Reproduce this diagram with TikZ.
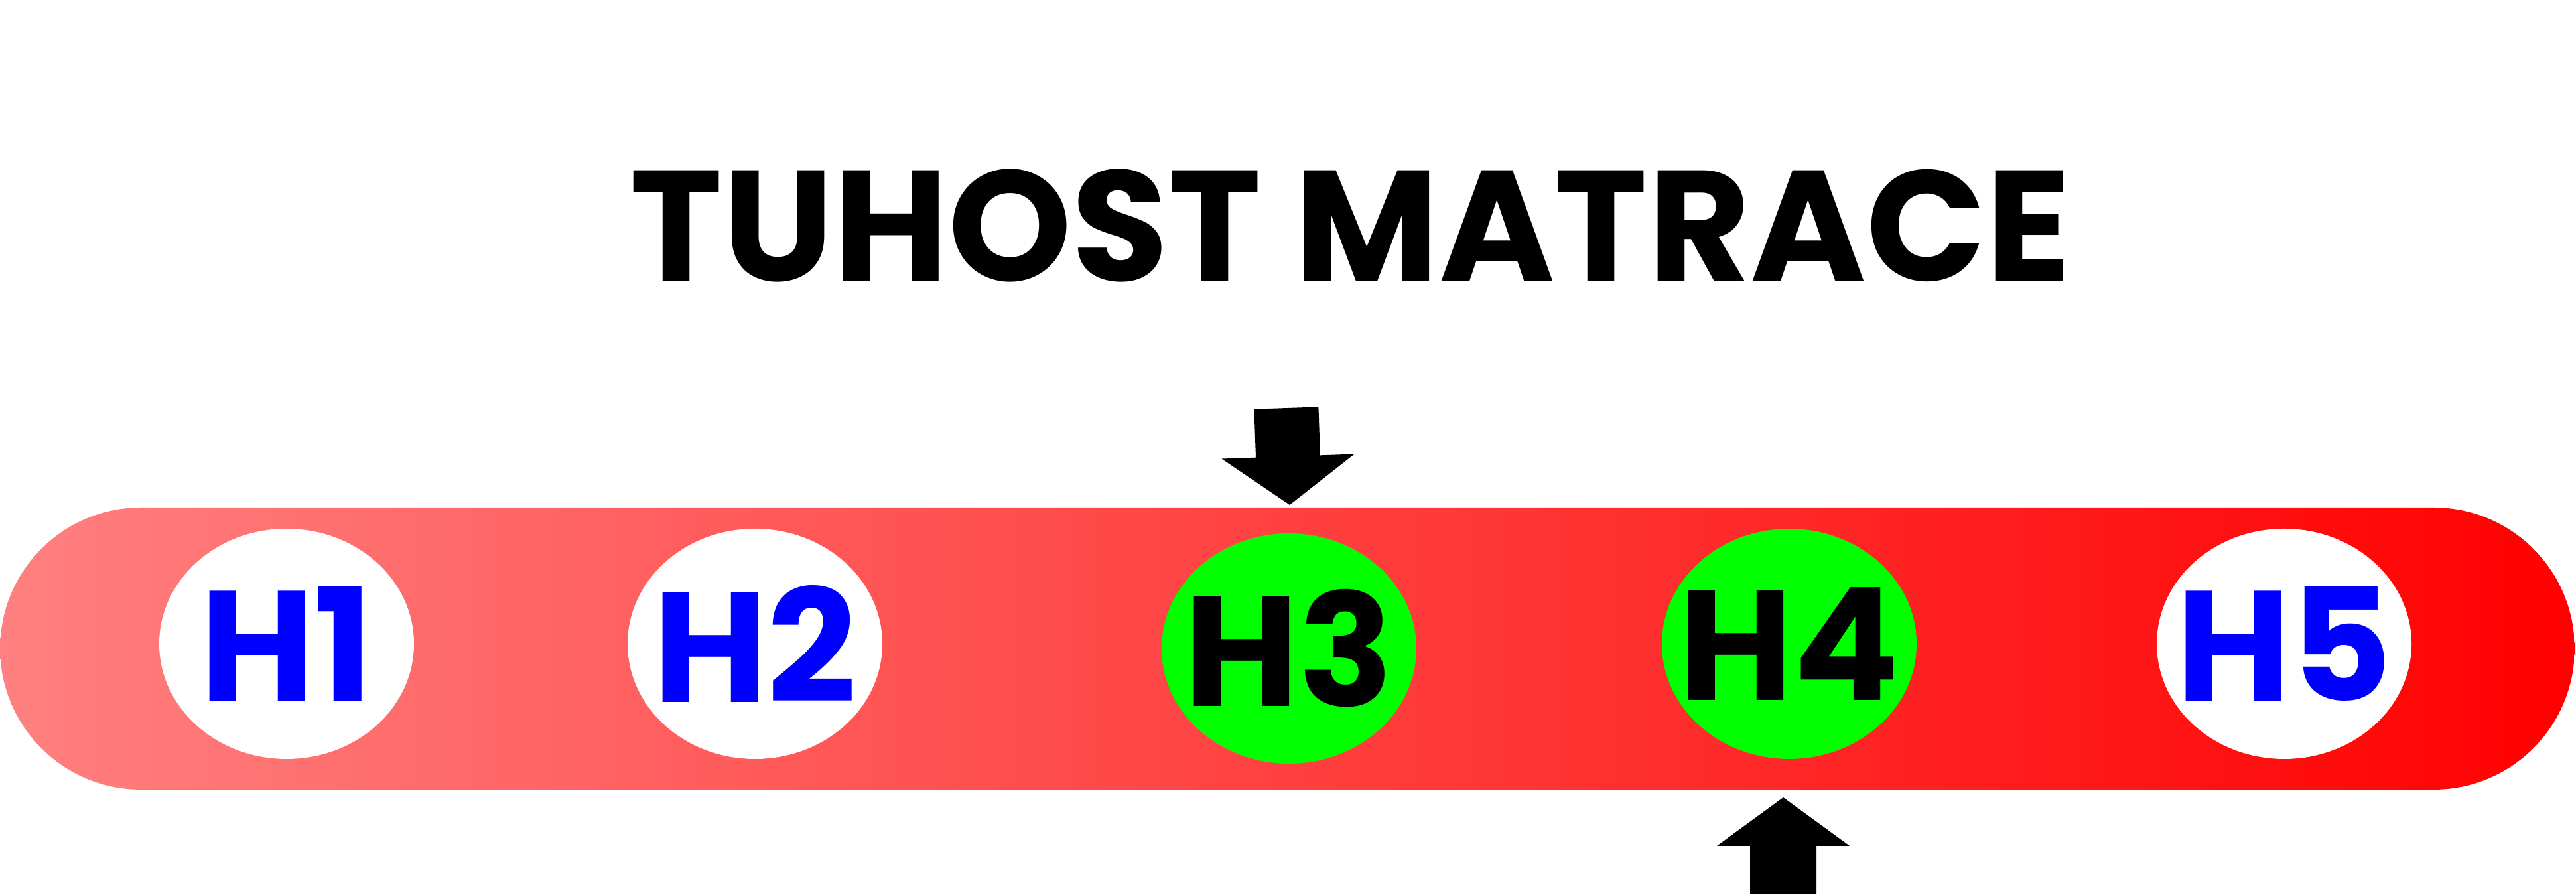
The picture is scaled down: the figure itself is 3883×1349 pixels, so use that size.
\documentclass[tikz,border=0pt]{standalone}
\usepackage{fontspec}
\setmainfont{Poppins}
\usetikzlibrary{shapes.geometric}
\definecolor{hgreen}{RGB}{0,255,0}
\definecolor{hblue}{RGB}{0,0,255}
\definecolor{barL}{RGB}{255,128,128}
\definecolor{barR}{RGB}{255,0,0}
\begin{document}
\begin{tikzpicture}[x=0.1pt,y=-0.1pt,
  labtext/.style={inner sep=0pt, font=\fontsize{23.6pt}{23.6pt}\selectfont\bfseries},
  hole/.style={ellipse, inner sep=0pt, minimum width=38.4pt, minimum height=34.7pt},
  white hole/.style={hole, fill=white, label={[labtext, text=hblue]center:#1}},
  green hole/.style={hole, fill=hgreen, label={[labtext, text=black]center:#1}},
  bar/.style={rectangle, inner sep=0pt, minimum width=388.1pt, minimum height=42.5pt,
    rounded corners=21.25pt, left color=barL, right color=barR},
  titletext/.style={inner sep=0pt, anchor=base, font=\fontsize{23.7pt}{23.7pt}\selectfont\bfseries},
  pointer/.style={fill=black}]
\useasboundingbox (0,0) rectangle (3883,1349);
\fill[white] (0,0) rectangle (3883,1349);
\node[titletext] (title) at (2035.5,424) {TUHOST MATRACE};
\node[bar] (bar) at (1940.5,977.5) {};
\node[white hole=H1] (h1) at (432,970.5) {};
\node[white hole=H2] (h2) at (1138,970.5) {};
\node[green hole=H3] (h3) at (1943,977.5) {};
\node[green hole=H4] (h4) at (2697,970.5) {};
\node[white hole=H5] (h5) at (3443,970.5) {};
\coordinate (toptip) at (1944,761);
\coordinate (bottip) at (2688,1202);
\begin{scope}[shift={(toptip)}, rotate=2]
  \fill[pointer] (0,0) -- (100,-73) -- (48.5,-73) -- (48.5,-146) -- (-48.5,-146) -- (-48.5,-73) -- (-100,-73) -- cycle;
\end{scope}
\begin{scope}[shift={(bottip)}]
  \fill[pointer] (0,0) -- (100,73) -- (50,73) -- (50,146) -- (-50,146) -- (-50,73) -- (-100,73) -- cycle;
\end{scope}
\end{tikzpicture}
\end{document}
